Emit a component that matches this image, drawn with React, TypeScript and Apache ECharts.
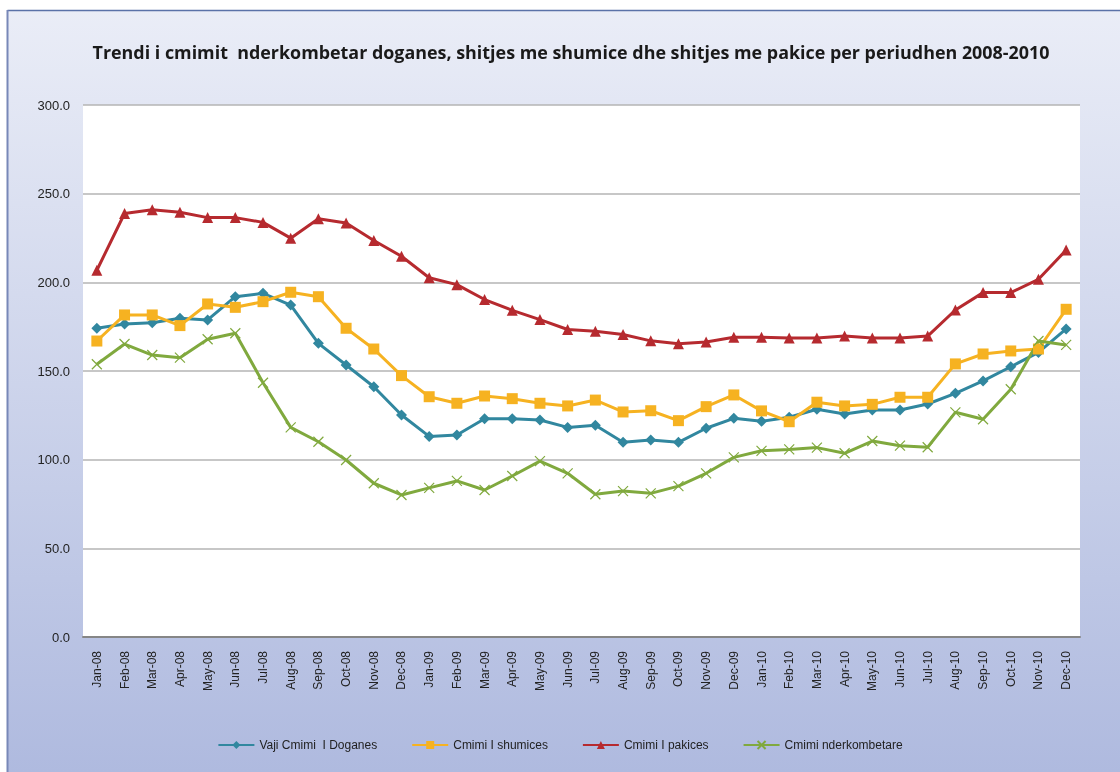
import React, { useEffect, useRef } from "react";
import * as echarts from "echarts";

const months = [
  "Jan-08","Feb-08","Mar-08","Apr-08","May-08","Jun-08","Jul-08","Aug-08","Sep-08","Oct-08","Nov-08","Dec-08",
  "Jan-09","Feb-09","Mar-09","Apr-09","May-09","Jun-09","Jul-09","Aug-09","Sep-09","Oct-09","Nov-09","Dec-09",
  "Jan-10","Feb-10","Mar-10","Apr-10","May-10","Jun-10","Jul-10","Aug-10","Sep-10","Oct-10","Nov-10","Dec-10",
];

const doganes = [
  174.1, 176.5, 177.2, 179.7, 178.8, 191.9, 193.8, 187.2, 165.6, 153.4, 141.1, 125.2,
  113.1, 113.9, 123.1, 123.1, 122.4, 118.2, 119.4, 109.8, 111.1, 109.8, 117.7, 123.3,
  121.6, 123.9, 128.4, 125.8, 128.0, 128.0, 131.4, 137.4, 144.4, 152.4, 160.5, 173.7,
];

const shumice = [
  166.9, 181.6, 181.6, 175.6, 187.8, 185.9, 189.1, 194.4, 191.9, 174.1, 162.4, 147.4,
  135.5, 131.8, 135.9, 134.4, 131.8, 130.3, 133.6, 126.9, 127.6, 122.0, 129.9, 136.5,
  127.5, 121.4, 132.4, 130.3, 131.2, 135.2, 135.2, 154.0, 159.6, 161.3, 162.4, 184.8,
];

const pakice = [
  206.8, 238.8, 240.9, 239.5, 236.5, 236.5, 233.8, 224.9, 235.9, 233.4, 223.6, 214.7,
  202.6, 198.7, 190.3, 184.2, 179.0, 173.4, 172.4, 170.6, 167.0, 165.4, 166.4, 169.0,
  169.0, 168.6, 168.6, 169.7, 168.6, 168.6, 169.7, 184.4, 194.2, 194.2, 201.7, 218.2,
];

const nderkombetare = [
  153.8, 165.2, 159.0, 157.5, 167.9, 171.3, 143.4, 118.2, 110.1, 99.8, 86.7, 80.1,
  84.1, 88.0, 82.9, 90.8, 99.2, 92.3, 80.5, 82.3, 81.0, 85.1, 92.3, 101.3,
  105.0, 105.8, 106.8, 103.6, 110.5, 107.9, 107.0, 126.7, 122.8, 139.7, 166.9, 164.7,
];

const seriesNames = [
  "Vaji Cmimi  I Doganes",
  "Cmimi I shumices",
  "Cmimi I pakices",
  "Cmimi nderkombetare",
];

const yTicks = [0, 50, 100, 150, 200, 250, 300];

const title =
  "Trendi i cmimit  nderkombetar doganes, shitjes me shumice dhe shitjes me pakice per periudhen 2008-2010";

export default function App() {
  const ref = useRef<HTMLDivElement>(null);

  useEffect(() => {
    if (!ref.current) return;
    const chart = echarts.init(ref.current, null, { renderer: "svg" });
    const blue = "#31879f";
    const yellow = "#f6b221";
    const red = "#b62a2f";
    const green = "#80a93e";
    const mk = (name: string, data: number[], color: string, symbol: string, size: number) => ({
      name,
      type: "line",
      data,
      symbol,
      symbolSize: size,
      showSymbol: true,
      lineStyle: { color, width: 3 },
      itemStyle: { color },
    });
    chart.setOption({
      animation: false,
      backgroundColor: "transparent",
      graphic: [
        {
          type: "rect",
          shape: { x: 8, y: 10, width: 1112, height: 762 },
          style: {
            fill: new echarts.graphic.LinearGradient(0, 0, 0, 1, [
              { offset: 0, color: "#eaedf7" },
              { offset: 1, color: "#afbadf" },
            ]),
          },
          z: -10,
          silent: true,
        },
        {
          type: "line",
          shape: { x1: 7.5, y1: 10.5, x2: 1120, y2: 10.5 },
          style: { stroke: "#5a72a8", lineWidth: 1.5 },
          z: -9,
          silent: true,
        },
        {
          type: "line",
          shape: { x1: 7.5, y1: 10, x2: 7.5, y2: 772 },
          style: { stroke: "#7888b8", lineWidth: 2 },
          z: -9,
          silent: true,
        },
        {
          type: "text",
          x: 571,
          y: 52,
          style: {
            text: title,
            fill: "#1a1a1a",
            font: "bold 17.9px 'Open Sans', sans-serif",
            textAlign: "center",
            textVerticalAlign: "middle",
          },
          silent: true,
        },
      ],
      grid: {
        left: 83,
        right: 40,
        top: 105,
        bottom: 135,
        show: true,
        backgroundColor: "#ffffff",
        borderWidth: 0,
        containLabel: false,
      },
      legend: {
        bottom: 16,
        left: "center",
        itemGap: 34,
        itemWidth: 36,
        itemHeight: 10,
        textStyle: { color: "#222", fontSize: 12, fontFamily: "'Liberation Sans', sans-serif" },
        data: seriesNames,
      },
      xAxis: {
        type: "category",
        data: months,
        boundaryGap: true,
        axisLine: { lineStyle: { color: "#868686", width: 2 } },
        axisTick: { show: false },
        axisLabel: {
          rotate: 90,
          color: "#222",
          fontSize: 12,
          fontFamily: "'Liberation Sans', Arial, sans-serif",
          margin: 14,
          interval: 0,
        },
      },
      yAxis: {
        type: "value",
        min: yTicks[0],
        max: yTicks[yTicks.length - 1],
        interval: 50,
        axisLine: { show: false },
        axisTick: { show: false },
        axisLabel: {
          color: "#222",
          fontSize: 13,
          fontFamily: "'Liberation Sans', Arial, sans-serif",
          margin: 13,
          formatter: (v: number) => v.toFixed(1),
        },
        splitLine: { lineStyle: { color: "#b4b4b4", width: 1.5 } },
      },
      series: [
        mk(seriesNames[0], doganes, blue, "diamond", 11),
        mk(seriesNames[1], shumice, yellow, "rect", 11),
        mk(seriesNames[2], pakice, red, "triangle", 11),
        {
          name: seriesNames[3],
          type: "line",
          data: nderkombetare,
          symbol: "path://M0 0L10 10M10 0L0 10",
          symbolSize: 10,
          lineStyle: { color: green, width: 3 },
          itemStyle: { color: green, borderColor: green, borderWidth: 1.2 },
        },
      ],
    });
    return () => chart.dispose();
  }, []);

  return (
    <div
      ref={ref}
      style={{ position: "fixed", left: 0, top: 0, width: 1120, height: 772 }}
    />
  );
}
